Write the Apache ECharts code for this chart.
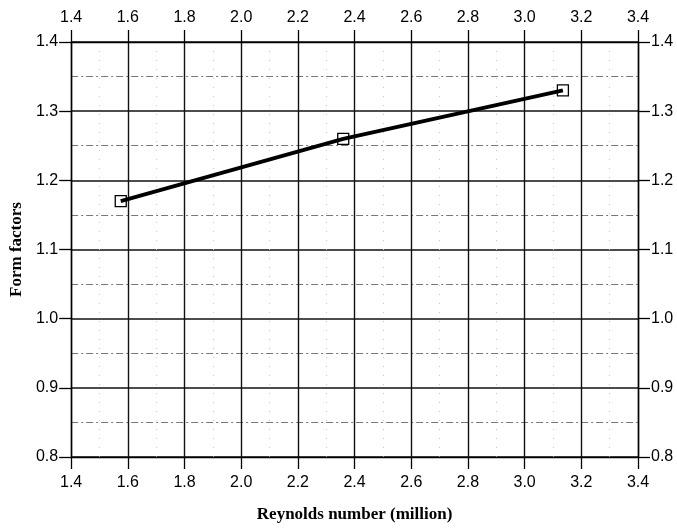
<!DOCTYPE html>
<html>
<head>
<meta charset="utf-8">
<script src="https://cdn.jsdelivr.net/npm/echarts@6/dist/echarts.min.js"></script>
<style>
  html, body { margin: 0; padding: 0; background: #fff; }
  #chart { width: 677px; height: 529px; }
</style>
</head>
<body>
<div id="chart"></div>
<script>
// Form factor measured at three Reynolds numbers
const reynolds = [1.575, 2.36, 3.135];       // million
const formFactor = [1.17, 1.26, 1.33];

const xRange = { min: 1.4, max: 3.4, interval: 0.2 };
const yRange = { min: 0.8, max: 1.4, interval: 0.1 };

const labelFont = { fontFamily: 'Liberation Sans, Arial, sans-serif', fontSize: 16, color: '#000' };
const nameFont = { fontFamily: 'Liberation Serif, Times New Roman, serif', fontSize: 17, fontWeight: 'bold', color: '#000' };
const axisLine = { show: true, lineStyle: { color: '#000', width: 1.4 } };
const tick = { show: true, inside: false, length: 12, lineStyle: { color: '#000', width: 1.3 } };

const chart = echarts.init(document.getElementById('chart'), null, { renderer: 'canvas' });

chart.setOption({
  animation: false,
  backgroundColor: '#fff',
  grid: { left: 67, right: 39, top: 42, bottom: 72, containLabel: false },
  xAxis: [
    {
      type: 'value', position: 'bottom', ...xRange,
      name: 'Reynolds number (million)', nameLocation: 'middle', nameGap: 49,
      nameTextStyle: nameFont,
      axisLine, axisTick: tick,
      axisLabel: { ...labelFont, margin: 18, formatter: v => v.toFixed(1) },
      splitLine: { show: true, lineStyle: { color: '#111', width: 1.4 } },
      minorTick: { show: false, splitNumber: 2 },
      minorSplitLine: { show: true, lineStyle: { color: '#c8c8c8', width: 1, type: [1, 8] } }
    },
    {
      type: 'value', position: 'top', ...xRange,
      axisLine, axisTick: tick,
      axisLabel: { ...labelFont, margin: 16, formatter: v => v.toFixed(1) },
      splitLine: { show: false }
    }
  ],
  yAxis: [
    {
      type: 'value', position: 'left', ...yRange,
      name: 'Form factors', nameLocation: 'middle', nameGap: 46,
      nameTextStyle: nameFont,
      axisLine, axisTick: tick,
      axisLabel: { ...labelFont, margin: 13, formatter: v => v.toFixed(1) },
      splitLine: { show: true, lineStyle: { color: '#111', width: 1.5 } },
      minorTick: { show: false, splitNumber: 2 },
      minorSplitLine: { show: true, lineStyle: { color: '#777', width: 1, type: [7, 3, 2, 3] } }
    },
    {
      type: 'value', position: 'right', ...yRange,
      axisLine, axisTick: tick,
      axisLabel: { ...labelFont, margin: 13, formatter: v => v.toFixed(1) },
      splitLine: { show: false }
    }
  ],
  series: [
    {
      type: 'line',
      xAxisIndex: 0, yAxisIndex: 0,
      data: reynolds.map((x, i) => [x, formFactor[i]]),
      symbol: 'rect', symbolSize: 11,
      lineStyle: { color: '#000', width: 3.8 },
      itemStyle: { color: 'rgba(0,0,0,0)', borderColor: '#000', borderWidth: 1.3 },
      z: 5
    }
  ]
});
</script>
</body>
</html>
